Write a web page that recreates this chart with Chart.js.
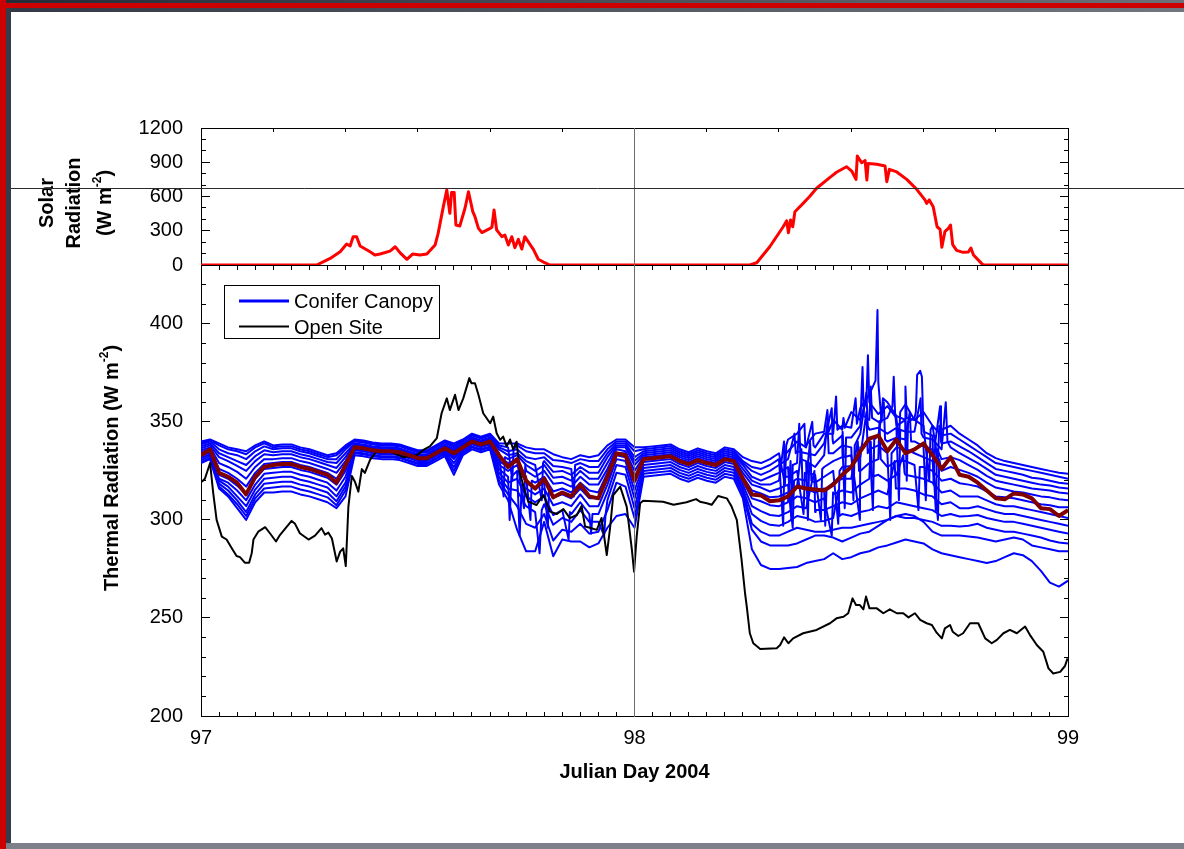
<!DOCTYPE html>
<html lang="en">
<head>
<meta charset="utf-8">
<title>Solar and thermal radiation, Julian Day 97–99, 2004</title>
<script src="https://cdn.jsdelivr.net/npm/chart.js@4.4.1/dist/chart.umd.min.js"></script>
<style>
  html, body { margin: 0; padding: 0; background: #fff; }
  body { position: relative; width: 1184px; height: 849px; overflow: hidden; }
  canvas { position: absolute; left: 0; top: 0; }
  .edge { position: absolute; }
</style>
</head>
<body>
<div class="edge" style="left:0;top:0;width:1184px;height:3px;background:linear-gradient(to right,#252b39,#6c7079);"></div>
<div class="edge" style="left:0;top:3px;width:1184px;height:5px;background:#cc0000;"></div>
<div class="edge" style="left:6px;top:8px;width:1178px;height:4px;background:linear-gradient(to right,#323845,#72767e);"></div>
<div class="edge" style="left:0;top:0;width:6px;height:849px;background:#cc0000;"></div>
<div class="edge" style="left:6px;top:8px;width:5px;height:835px;background:#353b47;"></div>
<div class="edge" style="left:6px;top:843px;width:1178px;height:6px;background:#7b8089;"></div>
<canvas id="solarChart" width="1184" height="849"></canvas>
<canvas id="thermalChart" width="1184" height="849"></canvas>
<script>
// ---------------- axes ----------------
const dayRange = [97, 99];
const dayTicks = [97, 98, 99];
const solarRange = [0, 1200];
const solarTicks = [0, 300, 600, 900, 1200];
const thermalRange = [200, 430];
const thermalTicks = [200, 250, 300, 350, 400];
const legendLabels = ['Conifer Canopy', 'Open Site'];
const cursorDay = 98;      // vertical guide
const cursorSolar = 666;   // horizontal guide (W m-2 on the solar axis)

// ---------------- incoming solar radiation (W m-2) ----------------
const solarTime = [97.000,97.267,97.298,97.321,97.336,97.344,97.351,97.359,97.367,97.390,97.401,97.413,97.436,97.448,97.459,97.475,97.488,97.505,97.521,97.540,97.547,97.559,97.567,97.574,97.578,97.584,97.588,97.597,97.609,97.617,97.627,97.632,97.640,97.648,97.667,97.671,97.676,97.682,97.694,97.701,97.709,97.717,97.724,97.732,97.740,97.747,97.767,97.778,97.790,97.805,
  98.266,98.282,98.312,98.343,98.351,98.355,98.360,98.365,98.370,98.389,98.405,98.420,98.451,98.466,98.489,98.501,98.511,98.514,98.524,98.532,98.536,98.539,98.559,98.578,98.582,98.588,98.605,98.628,98.651,98.670,98.674,98.680,98.689,98.698,98.705,98.709,98.716,98.724,98.729,98.734,98.743,98.758,98.770,98.776,98.782,98.801,98.805,99.000];
const solarValue = [0,0,58,116,184,166,248,248,166,116,88,96,122,160,108,50,96,88,96,175,277,511,657,453,636,636,350,342,497,642,467,423,321,284,321,330,482,307,248,262,175,248,152,225,140,248,134,50,26,0,
  0,20,160,335,388,283,394,335,467,540,604,672,768,812,861,823,750,955,896,914,744,890,882,867,730,838,815,750,663,570,540,570,511,335,312,155,292,321,350,178,128,111,114,149,88,12,0,0];

// ---------------- open site longwave (W m-2) ----------------
const openTime = [97.002,97.009,97.021,97.028,97.036,97.048,97.059,97.071,97.082,97.090,97.101,97.111,97.117,97.121,97.132,97.148,97.159,97.173,97.182,97.198,
  97.209,97.217,97.228,97.248,97.263,97.278,97.286,97.294,97.302,97.313,97.321,97.328,97.334,97.340,97.348,97.355,97.363,97.371,97.378,97.390,
  97.405,97.436,97.467,97.498,97.513,97.528,97.544,97.555,97.567,97.574,97.586,97.594,97.605,97.619,97.624,97.632,97.640,97.651,97.667,97.674,
  97.682,97.690,97.697,97.705,97.713,97.720,97.728,97.736,97.744,97.755,97.774,97.790,97.805,97.821,97.836,97.851,97.867,97.878,97.886,97.897,
  97.913,97.924,97.936,97.944,97.951,97.967,97.982,97.994,97.999,98.005,98.013,98.020,98.066,98.090,98.120,98.142,98.151,98.167,98.178,98.193,
  98.213,98.224,98.236,98.247,98.255,98.259,98.266,98.274,98.290,98.328,98.336,98.345,98.355,98.366,98.389,98.420,98.451,98.466,98.482,98.493,
  98.503,98.511,98.520,98.528,98.534,98.542,98.559,98.574,98.589,98.605,98.620,98.632,98.647,98.659,98.674,98.686,98.697,98.709,98.716,98.728,
  98.734,98.747,98.758,98.774,98.793,98.809,98.824,98.836,98.851,98.866,98.882,98.901,98.912,98.928,98.943,98.955,98.966,98.982,98.993,98.999];
const openValue = [319.5,321,329,314,300,291.5,290,285.6,281.6,281,278.2,278.2,283,290,294,296.3,293.2,289,292.3,296.6,
  299.5,298,293.2,290,292,295.8,292.5,293.5,290.5,278.8,283.8,285.5,276.5,306.8,322.4,319.5,314.4,325.9,324,330.6,
  334.9,334.9,332,333,335.7,337.5,341.7,354.4,362,356,363.8,356,362,372.3,369.7,369.7,363.8,354.4,349.3,352.7,
  344.2,340.8,342.5,337.5,341,336,339.9,323.8,317,309.3,307.6,312.7,304.2,303,305.5,300.9,302.5,307.1,296.6,296,
  294.9,301,282.1,296.6,312.7,317,306.8,284.7,273.6,291.5,308.5,309.8,309.3,307.7,309,310.6,309.3,308.5,307.7,312.2,
  311,306.8,300,279.6,262.6,255.8,242.2,237.1,234.2,234.6,236.2,240.1,237.1,239.6,242.2,243.9,247.3,249.8,250.6,252.4,
  260,256.6,256.6,254.4,260.9,254.9,254.9,252.4,254.4,252.4,252.4,250.3,252.4,249,247.3,246.4,242.5,239.6,244.7,246.4,
  243,240.8,242.2,247.3,247.3,239.6,237.1,238.8,242.2,243.9,242.2,245.6,241.4,236.2,232.8,224.3,221.7,222.5,225.5,229.4];

// ---------------- canopy longwave, 30-minute records from day 97.0 (W m-2) ----------------
const sampleStartDay = 97;
const sampleStepHours = 0.5;
const canopyMean = [333,336,324,322,319,313,322,327,328,328.5,328.5,327,326,324.5,323,319,328,
  337,336.5,335.5,335,335,334.5,333,331.5,331.5,334,336.5,334,337,340,338.5,340,333,
  327,331,320,316,321,311.5,314,312,318,312,311,322,334,333,320,
  331,331.5,332,332.5,330,328.5,330.5,329,328,331,330,
  321,313,312.5,309.5,
  310,312,317,316,315.5,315,318,323,327,335,341.5,343,335,341,334,336,339,333,326,332,323,322,319,315,311,310.5,313.5,313,311,306,305.5,302,305];
const canopy1 = [340,341,339,337,336,335,338,340,338,338.5,338.5,337,336,334.5,333,334,338,
  341,340.5,339.5,339,339,338.5,337,335.5,335.5,338,340.5,339,341,344,342.5,344,339,
  339,339,337,336,336,333.5,332,331,333,332,333,338,341,341,337,
  337,337.5,338,338.5,336,334.5,336.5,335,334,337,336,
  332,330,329,331,
  334,341,344,338,344,345,351,346,355,351,360,354,358,352,359,351,355,348,346,348,344,341,338,334,331.5,330,329,328,327,326,325,324,323.5];
const canopy2 = [339.5,340.5,338,336,335,333.5,337,339,337,337.5,337.5,336,335,333.5,332,333,337,
  340.5,340,339,338.5,338.5,338,336.5,335,335,337.5,340,338,340.5,343.5,342,343.5,338,
  337,338,335,334,334,330.5,330,329,331,330,330,336,340,340,335,
  336,336.5,337,337.5,335,333.5,335.5,334,333,336,335,
  330,327,326,328,
  331,335,340,337,337,344,344,348,347,357,364,370,360,353,351,351,348,348,343,344,341,338,335,332,329,328,327,326,325,324,323,322,321];
const canopy3 = [338.5,340,336,334,333,331,335,337.5,336,336.5,336.5,335,334,332.5,331,331,336,
  340,339.5,338.5,338,338,337.5,336,334.5,334.5,337,339.5,337,340,343,341.5,343,337,
  335,336,332,331,332,327.5,327,326,329,327,327,334,339,339,332,
  335,335.5,336,336.5,334,332.5,334.5,333,332,335,334,
  329,325,323,325,
  328,331,335,334,333,339,339,343,342,348,351,350,352,348,351,352,345,343,339,340,337.5,335,332,329,326,325,324,323,321.5,321,320,319,318.5];
const canopy4 = [337.5,339,334,332,330,328,332.5,335.5,334.5,335,335,333.5,332.5,331,329.5,329,334,
  339,338.5,337.5,337,337,336.5,335,333.5,333.5,336,338.5,336,339,342,340.5,342,336,
  333,334,330,328,330,324.5,325,323,327,324,324,332,338,338,330,
  334,334.5,335,335.5,333,331.5,333.5,332,331,334,333,
  328,322,320,322,
  324,327,329,330,327,333,334,338,337,344,346,347,344,347,345,345,342,341,336,337,334,331.5,329,326,323,322,321,320,319,318,317.5,316.5,316];
const canopy5 = [336.5,338,332,330,327.5,325,330,333.5,333,333.5,333.5,332,331,329.5,328,326.5,332,
  338.5,338,337,336.5,336.5,336,334.5,333,333,335.5,338,335,338.5,341.5,340,341.5,334,
  331,333,328,325,328,321.5,322,320,325,321,321,329,337,337,328,
  333,333.5,334,334.5,332,330.5,332.5,331,330,333,332,
  326,320,318,318,
  320,322,325,324,323,327,330,332,333,337,341,343,340,342,341,340,337.5,336,331,332,330.5,328,325.5,322.5,320,319,318,317,316,315.5,315,314,313.5];
const canopy6 = [335.5,337,329,327,324.5,321,327,331,331,331.5,331.5,330,329,327.5,326,324,330,
  338,337.5,336.5,336,336,335.5,334,332.5,332.5,335,337.5,334,338,341,339.5,341,332,
  329,331,325,322,325,318.5,319,317,322,318,318,326,336,335,325,
  332,332.5,333,333.5,331,329.5,331.5,330,329,332,331,
  324,318,316.5,314.5,
  316,318,321,320,319,322,325,327,327.5,332,336,338,334,337,336,334,332,330,325,327,325.5,324,322,319,316.5,315.5,314.5,314,313,312,311.5,310.5,310];
const canopy7 = [334.5,336,326,324,321,317,324,328.5,329,329.5,329.5,328,327,325.5,324,321,328,
  337,336.5,335.5,335,335,334.5,333,331.5,331.5,334,336.5,333,337,340,338.5,340,330,
  327,330,322,319,322,314.5,316,314,319,315,314,324,334,334,322,
  331,331.5,332,332.5,330,328.5,330.5,329,328,331,330,
  322,315,313.5,311.5,
  312,314,317,316,314,316,319,321,321,325,329,331,327,330,330,328,327,325,320,321,318.7,318,317,314.5,312,311.5,311,310,309,308,307.5,306.5,306.5];
const canopy8 = [333.5,335,323,321,317.5,313,321,326,326.5,327,327,325.5,324.5,323,321.5,318,325,
  336.5,336,335,334.5,334.5,334,332.5,331,331,333.5,336,332,336.5,339.5,338,339.5,328,
  325,328,319,316,319,311.5,313,311,316,311,311,321,333,332,319,
  329.5,330,330.5,331,328.5,327,329,327.5,326.5,329.5,328.5,
  320,311,309.5,307.5,
  307,309,312,311,309,311,313,315,314,318,321,323,320,323,323,322,321,319,314,315,312,312,312,310,308,307,307,306,305,304,303,302,301];
const canopy9 = [332.5,334.5,321,319,315,310,318,323.5,324,324.5,324.5,323,322,320.5,319,315,322,
  336,335.5,334.5,334,334,333.5,332,330.5,330.5,333,335.5,331,336,339,337.5,339,326,
  322,325,316,313,316,307.5,309,307,313,307,307,318,331,330,315,
  328,328.5,329,329.5,327,325.5,327.5,326,325,328,327,
  318,307,304.5,302.5,
  302,304,307,306,304,305,307,309,308,311,313,315,313,316,316,315,313,312,308,309,306,306,307,305.5,304,303,303,302,301,300,299,298,297];
const canopy10 = [331.5,333.5,320,317,312,307,315.5,321,321.5,322,322,320.5,319.5,318,316.5,312,319,
  335.5,335,334,333.5,333.5,333,331.5,330,330,332.5,335,329,335.5,338.5,337,338.5,324,
  319,321,312,309,312,302.5,305,303,309,303,303,314,328,327,311,
  326.5,327,327.5,328,325.5,324,326,324.5,323.5,326.5,325.5,
  316,303,299.5,297.5,
  297,299,302,301,299,299.5,301,303,302,304,305,307,306,309,308,307,306,305,302,303,301.7,302,302.5,301,300,299,299,298,297,296,295,294,293];
const canopy11 = [330.5,332.5,318.5,315,310,304,313,318.5,319,319.5,319.5,318,317,315.5,314,309.5,317,
  334.5,334,333,332.5,332.5,332,330.5,329,329,331.5,334,327,334.5,337.5,336,337.5,322,
  316,315,307,304,308,297.5,301,299,305,299,299,310,324,323,306,
  325,325.5,326,326.5,324,322.5,324.5,323,322,325,324,
  315,298,294,292,
  292,294,296,295,294,294,295,296,296,297,298,299,300,302,301,301,300,299,297,297,296.6,297,298,296,295,294,294,293,292,291,289.5,288.5,288];
const canopy12 = [329.5,331.5,317,313,308,302,311,316,316.5,317,317,315.5,314.5,313,311.5,307.5,315,
  334,333.5,332.5,332,332,331.5,330,328.5,328.5,331,333.5,325,334,337,335.5,337,320,
  313,307,298,296,303,289.5,295,294,298,293,294,305,319,317,301,
  323.5,324,324.5,325,322.5,321,323,321.5,320.5,323.5,322.5,
  313,295,289,287,
  287,287,288,290,292,292,291,289,291,293,294,297,300,302,303,302,299,294,292,292,292,291.5,291,290,289,290,291,290,287,286,285,284,284];
const canopy13 = [329,331,316,312,306,300,309,314,314,314.5,314.5,313,312,310.5,309,306,312,
  333,332.5,331.5,331,331,330.5,329,327.5,327.5,330,332.5,323,333,336,334.5,336,318,
  310,295,284,284,299,281.5,290,289,289,286,288,296,302,303,296,
  322,322.5,323,323.5,321,319.5,321.5,320,319,322,321,
  311,285,277,275,
  275,275.5,276,278,279,280,283,280,281,283,284,286,287,288.5,290,289,288,285,283,282,281,280,279,278,279,281,283,282,279,274,268,266,269];

// short excursions logged between the 30-minute records (sensor number, day, W m-2)
const peakLine = [2,2,1,1,3,3,3,3,3,3,3,3,3,2,2,4,4,4,4,4,4,5,5,6,6,4,4,5,5,6,6,5,5,3,3,9,9,11,11,10,10,
  1,1,1,1,1,1,1,1,1,1,1,1,
  2,2,2,2,2,2,2,2,2,2,2,2,
  3,3,3,3,3,3,3,3,3,3,3,3,
  4,4,4,4,4,4,4,4,4,4,
  5,5,5,5,5,5,5,5,5,5,5,5,5,5,
  6,6,6,6,6,6,6,6,6,6,
  7,7,7,7,7,7,7,7,7,7,
  8,8,8,8,8,8,8,8,
  9,9,9,9,10,10,
  5,5,6,6,7,7,8,8,9,9,4,4,3,3,10,10,11,11,2,2];
const peakTime = [98.556,98.5605,98.535,98.5385,98.526,98.529,98.595,98.598,98.601,98.649,98.652,98.659,98.663,98.465,98.468,
  98.380,98.383,98.718,98.722,98.362,98.365,98.430,98.433,98.470,98.473,98.505,98.508,98.550,98.553,98.590,98.593,98.672,98.675,
  98.690,98.694,97.712,97.716,97.781,97.786,97.848,97.851,
  98.347,98.350,98.392,98.394,98.445,98.448,98.482,98.485,98.610,98.613,98.700,98.703,
  98.343,98.346,98.410,98.413,98.510,98.513,98.570,98.573,98.625,98.628,98.680,98.683,
  98.369,98.372,98.455,98.457,98.485,98.488,98.545,98.548,98.628,98.631,98.705,98.707,
  98.400,98.403,98.445,98.448,98.535,98.538,98.610,98.613,98.660,98.662,
  98.345,98.348,98.390,98.393,98.480,98.483,98.520,98.523,98.575,98.578,98.635,98.638,98.695,98.698,
  98.365,98.368,98.405,98.408,98.535,98.538,98.625,98.628,98.700,98.703,
  98.385,98.388,98.440,98.443,98.515,98.518,98.565,98.568,98.655,98.658,
  98.360,98.363,98.455,98.458,98.545,98.548,98.620,98.623,
  98.415,98.418,98.600,98.603,98.470,98.473,
  97.698,97.701,97.745,97.748,97.760,97.763,97.800,97.803,97.735,97.740,97.786,97.789,97.860,97.863,97.900,97.903,97.930,97.933,97.718,97.721];
const peakValue = [371,407,361,384,378,353,358,373,355,355,374,376,373,363,346,
  349,331,360,340,300,328,300,326,298,325,310,338,305,341,300,334,310,336,
  318,340,300,322,283,305,290,304,
  318,338,349,338,356,345,352,347,340,355,330,348,
  297,333,350,338,362,349,350,362,368,352,320,346,
  344,334,357,341,306,342,368,352,320,350,358,340,
  300,329,350,334,365,348,310,346,362,344,
  340,322,303,324,345,332,300,336,360,341,355,340,305,336,
  296,320,340,320,355,334,350,336,300,331,
  336,316,297,316,340,325,350,331,305,327,
  330,310,292,314,340,322,333,324,
  325,305,330,316,315,302,
  312,332,306,328,300,320,296,316,292,318,310,329,312,328,293,303,292,302,320,336];

// ---------------- styling ----------------
const FONT = '"Liberation Sans", Arial, Helvetica, sans-serif';
const CANOPY_COLOR = '#0000ff';
const MEAN_COLOR = '#800000';
const OPEN_COLOR = '#000000';
const SOLAR_COLOR = '#ff0000';
Chart.defaults.font.family = FONT;
Chart.defaults.color = '#000';

const canopyLines = [canopy1, canopy2, canopy3, canopy4, canopy5, canopy6, canopy7,
  canopy8, canopy9, canopy10, canopy11, canopy12, canopy13];

const sampleDay = i => sampleStartDay + i * sampleStepHours / 24;
const pairs = (t, v) => t.map((x, i) => ({ x, y: v[i] }));

function canopyPoints(values, lineNo) {
  const pts = values.map((v, i) => ({ x: sampleDay(i), y: v }));
  peakLine.forEach((ln, k) => { if (ln === lineNo) pts.push({ x: peakTime[k], y: peakValue[k] }); });
  pts.sort((a, b) => a.x - b.x);
  return pts;
}

// inward tick marks and plot frame
const panelFrame = {
  id: 'panelFrame',
  beforeDatasetsDraw(chart, args, o) {
    const { ctx, chartArea: a } = chart;
    const xs = chart.scales.x, ys = chart.scales.y;
    const px = v => Math.floor(v) + 0.5;
    ctx.save();
    ctx.strokeStyle = '#000';
    ctx.lineWidth = 1;
    ctx.beginPath();
    ctx.rect(a.left + 0.5, a.top + 0.5, a.right - a.left, a.bottom - a.top);
    const nY = Math.round((ys.max - ys.min) / o.yMinor);
    for (let i = 0; i <= nY; i++) {
      const v = ys.min + i * o.yMinor;
      const y = px(ys.getPixelForValue(v));
      const len = Math.abs(v % o.yMajor) < 1e-6 ? 9 : 5;
      ctx.moveTo(a.left, y); ctx.lineTo(a.left + len, y);
      ctx.moveTo(a.right + 1, y); ctx.lineTo(a.right + 1 - len, y);
    }
    const edgeTicks = (step, yEdge, dir, len) => {
      const n = Math.round((xs.max - xs.min) / step);
      for (let i = 1; i < n; i++) {
        const x = px(xs.getPixelForValue(xs.min + i * step));
        ctx.moveTo(x, yEdge); ctx.lineTo(x, yEdge + dir * len);
      }
    };
    if (o.topStep) edgeTicks(o.topStep, a.top, 1, o.topLen);
    if (o.bottomStep) edgeTicks(o.bottomStep, a.bottom + 1, -1, 5);
    ctx.stroke();
    ctx.restore();
  }
};

// titles with a raised exponent
function drawRich(ctx, parts, x, y, rotated, size) {
  const supSize = Math.round(size * 0.62);
  ctx.save();
  ctx.translate(x, y);
  if (rotated) ctx.rotate(-Math.PI / 2);
  ctx.fillStyle = '#000';
  ctx.textAlign = 'left';
  ctx.textBaseline = 'alphabetic';
  const fontOf = sup => `bold ${sup ? supSize : size}px ${FONT}`;
  const widths = parts.map(([t, sup]) => { ctx.font = fontOf(sup); return ctx.measureText(t).width; });
  let cx = -widths.reduce((s, w) => s + w, 0) / 2;
  parts.forEach(([t, sup], i) => {
    ctx.font = fontOf(sup);
    ctx.fillText(t, cx, sup ? -size * 0.5 : 0);
    cx += widths[i];
  });
  ctx.restore();
}

const axisTitles = {
  id: 'axisTitles',
  afterDraw(chart, args, o) {
    const { ctx, chartArea: a } = chart;
    if (o.kind === 'solar') {
      const cy = 203;
      drawRich(ctx, [['Solar', false]], a.left - 148.5, cy, true, 20);
      drawRich(ctx, [['Radiation', false]], a.left - 121.5, cy, true, 20);
      drawRich(ctx, [['(W m', false], ['-2', true], [')', false]], a.left - 90, cy, true, 20);
    } else {
      drawRich(ctx, [['Thermal Radiation (W m', false], ['-2', true], [')', false]], a.left - 83.5, 468, true, 20);
      drawRich(ctx, [['Julian Day 2004', false]], (a.left + a.right) / 2, a.bottom + 62, false, 20);
    }
  }
};

const legendBox = {
  id: 'legendBox',
  afterDatasetsDraw(chart) {
    const { ctx, chartArea: a } = chart;
    const left = a.left + 23, top = a.top + 20, w = 215, h = 53;
    const rows = [
      { label: legendLabels[0], color: CANOPY_COLOR, width: 3 },
      { label: legendLabels[1], color: OPEN_COLOR, width: 2 }
    ];
    ctx.save();
    ctx.fillStyle = '#fff';
    ctx.fillRect(left, top, w, h);
    ctx.strokeStyle = '#000';
    ctx.lineWidth = 1;
    ctx.strokeRect(left + 0.5, top + 0.5, w, h);
    ctx.font = `20px ${FONT}`;
    ctx.textBaseline = 'alphabetic';
    rows.forEach((r, i) => {
      const yLine = top + 16 + i * 25.5;
      ctx.beginPath();
      ctx.strokeStyle = r.color;
      ctx.lineWidth = r.width;
      ctx.moveTo(left + 15, yLine);
      ctx.lineTo(left + 65, yLine);
      ctx.stroke();
      ctx.fillStyle = '#000';
      ctx.fillText(r.label, left + 70, yLine + 7);
    });
    ctx.restore();
  }
};

const cursorLines = {
  id: 'cursorLines',
  afterDraw(chart, args, o) {
    const { ctx, chartArea: a } = chart;
    const x = Math.floor(chart.scales.x.getPixelForValue(cursorDay)) + 0.5;
    ctx.save();
    ctx.lineWidth = 1;
    ctx.strokeStyle = '#6e6e6e';
    ctx.beginPath(); ctx.moveTo(x, a.top); ctx.lineTo(x, a.bottom + 1); ctx.stroke();
    if (o.level !== undefined) {
      const y = Math.floor(chart.scales.y.getPixelForValue(o.level)) + 0.5;
      ctx.strokeStyle = '#2a2a2a';
      ctx.beginPath(); ctx.moveTo(o.fromX, y); ctx.lineTo(chart.width, y); ctx.stroke();
    }
    ctx.restore();
  }
};

const tickFont = { family: FONT, size: 20 };
const commonOptions = {
  responsive: false,
  animation: false,
  devicePixelRatio: 1,
  events: [],
  elements: { point: { radius: 0 }, line: { tension: 0, borderJoinStyle: 'round' } }
};

// ---------------- solar panel ----------------
new Chart(document.getElementById('solarChart'), {
  type: 'line',
  data: {
    datasets: [{
      data: pairs(solarTime, solarValue),
      borderColor: SOLAR_COLOR,
      borderWidth: 3
    }]
  },
  options: Object.assign({}, commonOptions, {
    layout: { padding: { left: 0, right: 116, top: 128, bottom: 584 } },
    plugins: {
      legend: { display: false }, tooltip: { enabled: false },
      panelFrame: { yMajor: 300, yMinor: 100, topStep: 1 / 6, topLen: 4 },
      axisTitles: { kind: 'solar' },
      cursorLines: { level: cursorSolar, fromX: 11 }
    },
    scales: {
      x: { type: 'linear', min: dayRange[0], max: dayRange[1], display: false },
      y: {
        type: 'linear', min: solarRange[0], max: solarRange[1],
        afterFit(s) { s.width = 201; },
        afterBuildTicks(s) { s.ticks = solarTicks.map(v => ({ value: v })); },
        grid: { display: false }, border: { display: false },
        ticks: { padding: 10, autoSkip: false, font: tickFont, color: '#000', callback: v => String(v) }
      }
    }
  }),
  plugins: [panelFrame, axisTitles, cursorLines]
});

// ---------------- thermal panel ----------------
const thermalSets = [
  { data: pairs(canopyMean.map((_, i) => sampleDay(i)), canopyMean), borderColor: MEAN_COLOR, borderWidth: 4 },
  { data: pairs(openTime, openValue), borderColor: OPEN_COLOR, borderWidth: 2 }
].concat(canopyLines.map((vals, k) => ({
  data: canopyPoints(vals, k + 1), borderColor: CANOPY_COLOR, borderWidth: 2
})));

new Chart(document.getElementById('thermalChart'), {
  type: 'line',
  data: { datasets: thermalSets },
  options: Object.assign({}, commonOptions, {
    layout: { padding: { left: 0, right: 116, top: 265, bottom: 93 } },
    plugins: {
      legend: { display: false }, tooltip: { enabled: false },
      panelFrame: { yMajor: 50, yMinor: 10, topStep: 1 / 24, topLen: 5, bottomStep: 1 / 24 },
      axisTitles: { kind: 'thermal' },
      cursorLines: {}
    },
    scales: {
      x: {
        type: 'linear', min: dayRange[0], max: dayRange[1],
        afterFit(s) { s.height = 40; },
        afterBuildTicks(s) { s.ticks = dayTicks.map(v => ({ value: v })); },
        grid: { display: false }, border: { display: false },
        ticks: { padding: 2, autoSkip: false, maxRotation: 0, font: tickFont, color: '#000', callback: v => String(v) }
      },
      y: {
        type: 'linear', min: thermalRange[0], max: thermalRange[1],
        afterFit(s) { s.width = 201; },
        afterBuildTicks(s) { s.ticks = thermalTicks.map(v => ({ value: v })); },
        grid: { display: false }, border: { display: false },
        ticks: { padding: 10, autoSkip: false, font: tickFont, color: '#000', callback: v => String(v) }
      }
    }
  }),
  plugins: [panelFrame, legendBox, axisTitles, cursorLines]
});
</script>
</body>
</html>
